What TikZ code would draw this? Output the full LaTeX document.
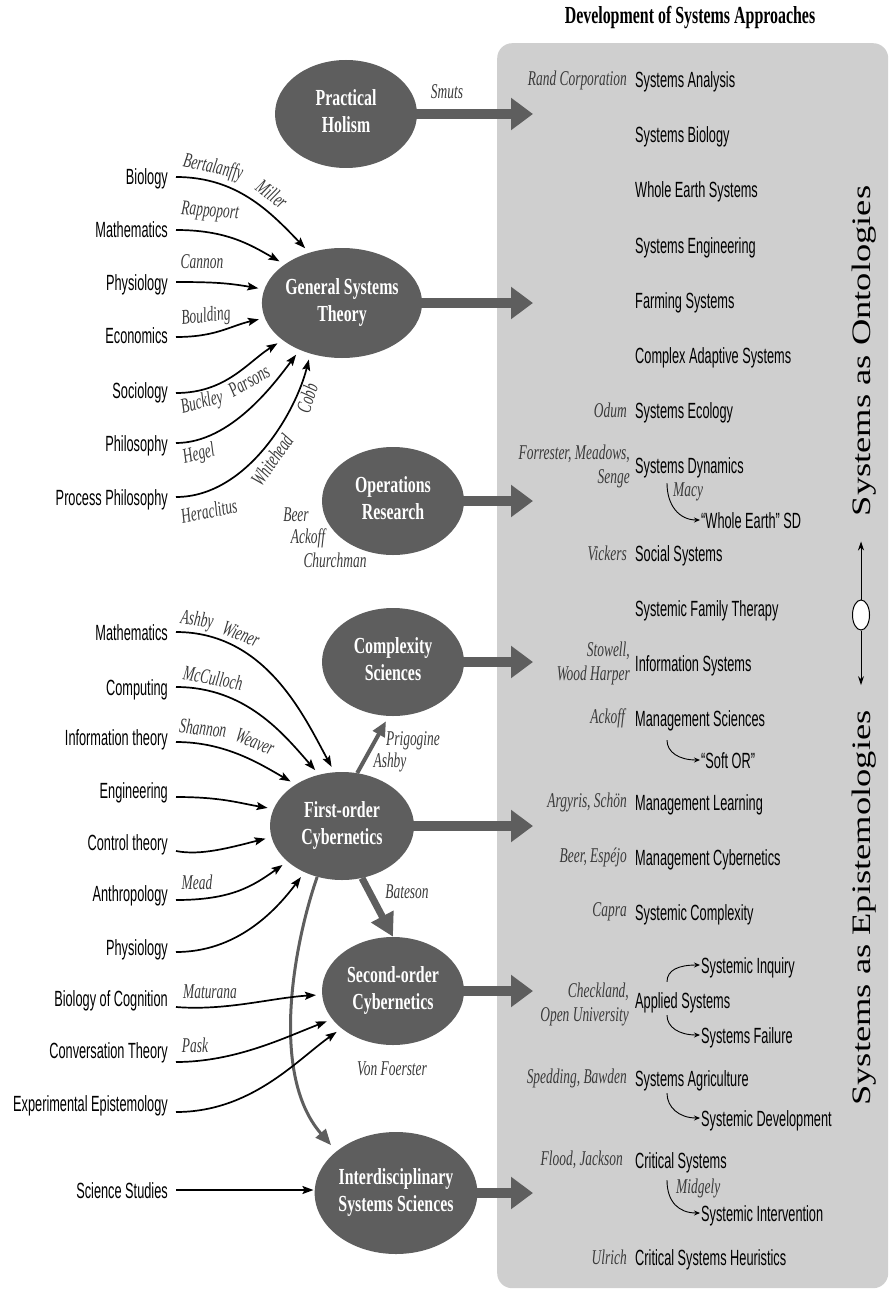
\documentclass[tikz,border=0pt]{standalone}
\usepackage{fontspec}
\usepackage{graphicx}
\setmainfont{Liberation Serif}
\newfontfamily\fieldfont{Liberation Sans}
\usetikzlibrary{shapes.geometric,arrows.meta,calc}
\definecolor{bubblegray}{HTML}{5E5E5E}
\definecolor{panelgray}{HTML}{CFCFCF}
\definecolor{namegray}{HTML}{3A3A3A}

% narrow set type: every text is condensed horizontally
\newcommand\fieldtext[1]{\scalebox{0.58}[1]{#1}}
\newcommand\nametext[1]{\scalebox{0.64}[1]{#1}}
\newcommand\namestack[1]{\scalebox{0.64}[1]{\begin{tabular}{@{}r@{}}#1\end{tabular}}}
\newcommand\bubbletext[1]{\scalebox{0.69}[1]{\begin{tabular}{@{}c@{}}#1\end{tabular}}}
\newcommand\headtext[1]{\scalebox{0.65}[1]{#1}}

\begin{document}
\begin{tikzpicture}[x=1pt,y=-1pt,
  bubble/.style={ellipse, fill=bubblegray, text=white, inner sep=0pt,
    minimum width=142pt, minimum height=108pt,
    font=\bfseries\fontsize{23}{27}\selectfont},
  field/.style={anchor=east, inner xsep=8pt, inner ysep=0pt, text height=16pt, text depth=0pt,
    font=\fieldfont\fontsize{22}{24}\selectfont},
  approach/.style={anchor=west, inner sep=0pt, text height=16pt, text depth=0pt,
    font=\fieldfont\fontsize{22}{24}\selectfont},
  who/.style={inner sep=0pt, text=namegray, font=\itshape\fontsize{21}{24}\selectfont},
  whoright/.style={who, anchor=east},
  feed/.style={draw=bubblegray, line width=10pt, -{Triangle[length=22pt,width=31pt]}},
  link/.style={draw=black, line width=1.7pt, shorten >=6pt, -{Stealth[length=11pt,width=8pt,inset=2pt]}},
  branch/.style={draw=black, line width=0.9pt, shorten >=1pt, -{Stealth[length=6pt,width=5pt]}},
  axisarrow/.style={draw=black, line width=1pt, shorten >=25pt, -{Stealth[length=9pt,width=6pt]}},
  sideways/.style={rotate=90, inner sep=0pt, font=\fontsize{36.5}{40}\selectfont}
]
\useasboundingbox (0,0) rectangle (889,1289);

% panel of systems approaches
\node[fill=panelgray, rounded corners=15pt, minimum width=391pt, minimum height=1245pt,
      anchor=north west, inner sep=0pt] (panel) at (497,43) {};
\node[font=\bfseries\fontsize{24.5}{26}\selectfont] (title) at (690,18) {\headtext{Development of Systems Approaches}};

% main streams of systems thinking
\node[bubble] (holism) at (346,114) {\bubbletext{Practical\\Holism}};
\node[bubble, minimum width=144pt, minimum height=110pt] (gst) at (342,303) {\bubbletext{General Systems\\Theory}};
\node[bubble] (opres) at (393,501) {\bubbletext{Operations\\Research}};
\node[bubble] (cplx) at (393,662) {\bubbletext{Complexity\\Sciences}};
\node[bubble, minimum width=144pt] (first) at (342,826) {\bubbletext{First-order\\Cybernetics}};
\node[bubble] (second) at (393,991) {\bubbletext{Second-order\\Cybernetics}};
\node[bubble, minimum width=148pt, minimum height=122pt] (inter) at (396,1193) {\bubbletext{Interdisciplinary\\Systems Sciences}};

\foreach \b in {holism,gst,opres,cplx,first,second,inter}
  \draw[feed] ($(\b.east)+(-5,0)$) -- ($(\b.east -| panel.west)+(36,0)$);

% links between the streams
\draw[draw=bubblegray, line width=4pt, -{Triangle[length=15pt,width=13pt]}] (first.74) -- ($(cplx.south)+(-7,5)$);
\draw[draw=bubblegray, line width=7pt, -{Triangle[length=23pt,width=24pt]}] (first.-69) -- (second.north);
\draw[draw=bubblegray, line width=3pt, shorten >=8pt, -{Triangle[length=16pt,width=13pt]}]
  (first.-116) .. controls +(-22,63) and +(-68,-78) .. (inter.145);

% disciplines feeding General Systems Theory
\node[field] (fbio) at (176,177) {\fieldtext{Biology}};
\node[field] (fmat) at (176,230) {\fieldtext{Mathematics}};
\node[field] (fphy) at (176,282) {\fieldtext{Physiology}};
\node[field] (feco) at (176,335) {\fieldtext{Economics}};
\node[field] (fsoc) at (176,390) {\fieldtext{Sociology}};
\node[field] (fphi) at (176,443) {\fieldtext{Philosophy}};
\node[field] (fpro) at (176,497) {\fieldtext{Process Philosophy}};

\draw[link] (fbio.east) .. controls +(60,0) and +(-40,-42) .. (gst.123);
\draw[link] (fmat.east) .. controls +(50,0) and +(-35,-20) .. (gst.146);
\draw[link] (fphy.east) .. controls +(40,0) and +(-35,-6) .. (gst.170);
\draw[link] ($(feco.east)+(0,2)$) .. controls +(40,0) and +(-35,8) .. (gst.191);
\draw[link] ($(fsoc.east)+(0,3)$) .. controls +(50,0) and +(-35,22) .. (gst.212);
\draw[link] (fphi.east) .. controls +(55,0) and +(-25,33) .. (gst.228);
\draw[link] (fpro.east) .. controls +(70,0) and +(-15,60) .. (gst.238);

% disciplines feeding cybernetics
\node[field] (fmat2) at (176,632) {\fieldtext{Mathematics}};
\node[field] (fcom) at (176,687) {\fieldtext{Computing}};
\node[field] (finf) at (176,737) {\fieldtext{Information theory}};
\node[field] (feng) at (176,790) {\fieldtext{Engineering}};
\node[field] (fctl) at (176,842) {\fieldtext{Control theory}};
\node[field] (fant) at (176,893) {\fieldtext{Anthropology}};
\node[field] (fphy2) at (176,947) {\fieldtext{Physiology}};
\node[field] (fboc) at (176,998) {\fieldtext{Biology of Cognition}};
\node[field] (fcvt) at (176,1050) {\fieldtext{Conversation Theory}};
\node[field] (fexe) at (176,1103) {\fieldtext{Experimental Epistemology}};
\node[field] (fsst) at (176,1190) {\fieldtext{Science Studies}};

\draw[link] (fmat2.east) .. controls +(90,0) and +(-30,-55) .. (first.98);
\draw[link] (fcom.east) .. controls +(70,0) and +(-35,-40) .. (first.114);
\draw[link] ($(finf.east)+(0,5)$) .. controls +(50,0) and +(-35,-20) .. (first.138);
\draw[link] ($(feng.east)+(0,7)$) .. controls +(45,0) and +(-35,-6) .. (first.166);
\draw[link] ($(fctl.east)+(0,9)$) .. controls +(25,5) and +(-40,10) .. (first.189);
\draw[link] ($(fant.east)+(0,7)$) .. controls +(55,0) and +(-35,25) .. (first.213);
\draw[link] ($(fphy2.east)+(0,5)$) .. controls +(60,0) and +(-30,40) .. (first.231);
\draw[link] ($(fboc.east)+(0,9)$) .. controls +(50,4) and +(-50,3) .. (second.183);
\draw[link] ($(fcvt.east)+(0,12)$) .. controls +(60,0) and +(-45,17) .. (second.205);
\draw[link] ($(fexe.east)+(0,9)$) .. controls +(75,0) and +(-45,32) .. (second.216);
\draw[link, shorten >=1pt] (fsst.east) -- (fsst.east -| inter.west);

% thinkers along the links
\node[who] (nSmut) at (447,92) {\nametext{Smuts}};
\node[who, rotate=-12] (nBert) at (213,168) {\nametext{Bertalanffy}};
\node[who, rotate=-38] (nMill) at (272,194) {\nametext{Miller}};
\node[who, rotate=-5] (nRapp) at (210,212) {\nametext{Rappoport}};
\node[who] (nCann) at (202,262) {\nametext{Cannon}};
\node[who, rotate=6] (nBoul) at (206,317) {\nametext{Boulding}};
\node[who, rotate=14] (nBuck) at (202,403) {\nametext{Buckley}};
\node[who, rotate=30] (nPars) at (249,381) {\nametext{Parsons}};
\node[who, rotate=14] (nHege) at (199,455) {\nametext{Hegel}};
\node[who, rotate=12] (nHera) at (209,511) {\nametext{Heraclitus}};
\node[who, rotate=55] (nWhit) at (272,460) {\nametext{Whitehead}};
\node[who, rotate=72] (nCobb) at (307,398) {\nametext{Cobb}};
\node[who] (nBeer) at (296,515) {\nametext{Beer}};
\node[who] (nAcko) at (308,538) {\nametext{Ackoff}};
\node[who] (nChur) at (335,560) {\nametext{Churchman}};
\node[who, rotate=-8] (nAsh1) at (197,621) {\nametext{Ashby}};
\node[who, rotate=-22] (nWien) at (241,634) {\nametext{Wiener}};
\node[who, rotate=-10] (nMcCu) at (213,678) {\nametext{McCulloch}};
\node[who, rotate=-6] (nShan) at (203,728) {\nametext{Shannon}};
\node[who, rotate=-22] (nWeav) at (255,742) {\nametext{Weaver}};
\node[who] (nMead) at (197,882) {\nametext{Mead}};
\node[who] (nMatu) at (210,992) {\nametext{Maturana}};
\node[who] (nPask) at (195,1045) {\nametext{Pask}};
\node[who] (nFoer) at (392,1069) {\nametext{Von Foerster}};
\node[who] (nPrig) at (413,741) {\nametext{Prigogine}};
\node[who] (nAsh2) at (390,762) {\nametext{Ashby}};
\node[who] (nBate) at (407,892) {\nametext{Bateson}};

% systems approaches
\node[approach] (aSA) at (635,80) {\fieldtext{Systems Analysis}};
\node[approach] (aSB) at (635,135) {\fieldtext{Systems Biology}};
\node[approach] (aWES) at (635,190) {\fieldtext{Whole Earth Systems}};
\node[approach] (aSE) at (635,245) {\fieldtext{Systems Engineering}};
\node[approach] (aFS) at (635,300) {\fieldtext{Farming Systems}};
\node[approach] (aCAS) at (635,355) {\fieldtext{Complex Adaptive Systems}};
\node[approach] (aSEc) at (635,410) {\fieldtext{Systems Ecology}};
\node[approach] (aSD) at (635,465) {\fieldtext{Systems Dynamics}};
\node[approach] (aWESD) at (701,520) {\fieldtext{“Whole Earth” SD}};
\node[approach] (aSS) at (635,553) {\fieldtext{Social Systems}};
\node[approach] (aSFT) at (635,608) {\fieldtext{Systemic Family Therapy}};
\node[approach] (aIS) at (635,663) {\fieldtext{Information Systems}};
\node[approach] (aMS) at (635,718) {\fieldtext{Management Sciences}};
\node[approach] (aSOR) at (701,760) {\fieldtext{“Soft OR”}};
\node[approach] (aML) at (635,802) {\fieldtext{Management Learning}};
\node[approach] (aMC) at (635,857) {\fieldtext{Management Cybernetics}};
\node[approach] (aSC) at (635,912) {\fieldtext{Systemic Complexity}};
\node[approach] (aSI) at (701,965) {\fieldtext{Systemic Inquiry}};
\node[approach] (aAS) at (635,1000) {\fieldtext{Applied Systems}};
\node[approach] (aSF) at (701,1035) {\fieldtext{Systems Failure}};
\node[approach] (aSAg) at (635,1078) {\fieldtext{Systems Agriculture}};
\node[approach] (aSDv) at (701,1118) {\fieldtext{Systemic Development}};
\node[approach] (aCS) at (635,1160) {\fieldtext{Critical Systems}};
\node[approach] (aSIn) at (701,1213) {\fieldtext{Systemic Intervention}};
\node[approach] (aCSH) at (635,1257) {\fieldtext{Critical Systems Heuristics}};

\draw[branch] ($(aSD.south west)+(32,10)$) .. controls +(0,22) and +(-22,0) .. (aWESD.west);
\draw[branch] ($(aMS.south west)+(32,14)$) .. controls +(0,12) and +(-22,0) .. (aSOR.west);
\draw[branch] ($(aAS.north west)+(32,-10)$) .. controls +(0,-12) and +(-22,0) .. (aSI.west);
\draw[branch] ($(aAS.south west)+(32,7)$) .. controls +(0,12) and +(-22,0) .. (aSF.west);
\draw[branch] ($(aSAg.south west)+(32,7)$) .. controls +(0,14) and +(-22,0) .. (aSDv.west);
\draw[branch] ($(aCS.south west)+(32,12)$) .. controls +(0,22) and +(-22,0) .. (aSIn.west);

% originators of the approaches
\node[whoright] (rRand) at (627,80) {\nametext{Rand Corporation}};
\node[whoright] (rOdum) at (627,410) {\nametext{Odum}};
\node[whoright] (rForr) at (630,467) {\namestack{Forrester, Meadows,\\Senge}};
\node[who, anchor=west] (rMacy) at (673,492) {\nametext{Macy}};
\node[whoright] (rVick) at (627,553) {\nametext{Vickers}};
\node[whoright] (rStow) at (630,664) {\namestack{Stowell,\\Wood Harper}};
\node[whoright] (rAcko) at (625,718) {\nametext{Ackoff}};
\node[whoright] (rArgy) at (627,802) {\nametext{Argyris, Schön}};
\node[whoright] (rBeer) at (627,857) {\nametext{Beer, Espéjo}};
\node[whoright] (rCapr) at (627,912) {\nametext{Capra}};
\node[whoright] (rChec) at (629,1005) {\namestack{Checkland,\\Open University}};
\node[whoright] (rSped) at (627,1078) {\nametext{Spedding, Bawden}};
\node[whoright] (rFloo) at (623,1160) {\nametext{Flood, Jackson}};
\node[who, anchor=west] (rMidg) at (676,1188) {\nametext{Midgely}};
\node[whoright] (rUlri) at (627,1257) {\nametext{Ulrich}};

% ontology / epistemology axis
\node[sideways] (onto) at (864,351) {\scalebox{1}[0.73]{Systems as Ontologies}};
\node[sideways] (epis) at (864,908) {\scalebox{1}[0.73]{Systems as Epistemologies}};
\node[ellipse, draw=black, fill=white, line width=1pt, inner sep=0pt,
      minimum width=17pt, minimum height=30pt] (pivot) at (861,615) {};
\draw[axisarrow] (pivot.north) -- (pivot.north |- onto.west);
\draw[axisarrow] (pivot.south) -- (pivot.south |- epis.east);
\end{tikzpicture}
\end{document}
